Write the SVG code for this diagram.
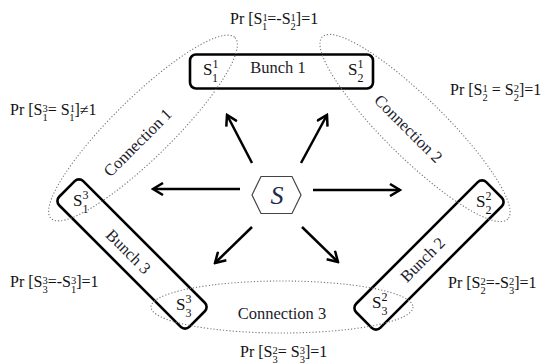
<svg xmlns="http://www.w3.org/2000/svg" width="547" height="364" viewBox="0 0 547 364">
<style>
.t{font-family:"Liberation Serif",serif;font-size:16px;fill:#111}
.s{font-size:10.5px}
.b{font-family:"Liberation Serif",serif;font-size:17px;fill:#111}
.bs{font-size:12px}
.lbl{font-family:"Liberation Serif",serif;font-size:16.5px;fill:#1c1c2c;text-anchor:middle}
.bunch{fill:#fff;stroke:#000;stroke-width:2.6}
.conn{fill:none;stroke:#777;stroke-width:1.1;stroke-dasharray:1.2 2}
.arr{stroke:#000;stroke-width:2.5;fill:none;marker-end:url(#ah)}
</style>
<defs>
<marker id="ah" markerUnits="userSpaceOnUse" viewBox="0 0 14 14" refX="12" refY="7" markerWidth="14" markerHeight="14" orient="auto">
<path d="M2,1 L12,7 L2,13" fill="none" stroke="#000" stroke-width="2.5" stroke-linejoin="miter"/>
</marker>
</defs>

<g id="bunch1">
<rect class="bunch" x="190" y="54.5" width="183" height="34" rx="6"/>
<text class="b" x="203" y="75">S<tspan class="bs" dy="-7">1</tspan><tspan class="bs" dx="-6" dy="14">1</tspan></text>
<text class="lbl" x="278" y="73">Bunch 1</text>
<text class="b" x="348" y="75">S<tspan class="bs" dy="-7">1</tspan><tspan class="bs" dx="-6" dy="14">2</tspan></text>
</g>

<g id="bunch3">
<rect class="bunch" x="-92" y="-17" width="184" height="34" rx="6" transform="translate(132,254) rotate(45)"/>
<text class="lbl" transform="translate(128,252) rotate(45)" y="5">Bunch 3</text>
<text class="b" x="73" y="206">S<tspan class="bs" dy="-7">3</tspan><tspan class="bs" dx="-6" dy="14">1</tspan></text>
<text class="b" x="176" y="310">S<tspan class="bs" dy="-7">3</tspan><tspan class="bs" dx="-6" dy="14">3</tspan></text>
</g>

<g id="bunch2">
<rect class="bunch" x="-92" y="-17" width="184" height="34" rx="6" transform="translate(429,255) rotate(-45)"/>
<text class="lbl" transform="translate(423,260) rotate(-45)" y="5">Bunch 2</text>
<text class="b" x="476" y="207">S<tspan class="bs" dy="-7">2</tspan><tspan class="bs" dx="-6" dy="14">2</tspan></text>
<text class="b" x="372" y="308">S<tspan class="bs" dy="-7">2</tspan><tspan class="bs" dx="-6" dy="14">3</tspan></text>
</g>

<g id="connection1">
<ellipse class="conn" cx="0" cy="0" rx="129" ry="30" transform="translate(143,128) rotate(-44.5)"/>
<text class="lbl" transform="translate(138,143) rotate(-45)" y="5">Connection 1</text>
</g>

<g id="connection2">
<ellipse class="conn" cx="0" cy="0" rx="130" ry="30" transform="translate(415,128) rotate(44.5)"/>
<text class="lbl" transform="translate(408,129) rotate(45)" y="5">Connection 2</text>
</g>

<g id="connection3">
<ellipse class="conn" cx="282" cy="307" rx="131" ry="26"/>
<text class="lbl" x="282" y="319">Connection 3</text>
</g>

<g id="source">
<polygon points="252,195 261,176.5 292,176.5 301,195 292,213.5 261,213.5" fill="#fff" stroke="#444" stroke-width="1.2"/>
<text x="277" y="204" font-family="Liberation Serif,serif" font-style="italic" font-size="26" fill="#1a2a4a" text-anchor="middle">S</text>
</g>

<g id="connectors">
<line class="arr" x1="240" y1="189" x2="153" y2="189"/>
<line class="arr" x1="313" y1="190" x2="400" y2="190"/>
<line class="arr" x1="252" y1="163" x2="227" y2="115"/>
<line class="arr" x1="301" y1="163" x2="327" y2="115"/>
<line class="arr" x1="252" y1="227" x2="215" y2="263"/>
<line class="arr" x1="302" y1="227" x2="338" y2="262"/>
</g>

<g id="probabilities">
<text class="t" x="230" y="24">Pr [S<tspan class="s" dy="-3.5">1</tspan><tspan class="s" dx="-5.25" dy="9">1</tspan><tspan dy="-5.5">=-S</tspan><tspan class="s" dy="-3.5">1</tspan><tspan class="s" dx="-5.25" dy="9">2</tspan><tspan dy="-5.5">]=1</tspan></text>
<text class="t" x="10" y="115">Pr [S<tspan class="s" dy="-3.5">3</tspan><tspan class="s" dx="-5.25" dy="9">1</tspan><tspan dy="-5.5">= S</tspan><tspan class="s" dy="-3.5">1</tspan><tspan class="s" dx="-5.25" dy="9">1</tspan><tspan dy="-5.5">]≠1</tspan></text>
<text class="t" x="450" y="95">Pr [S<tspan class="s" dy="-3.5">1</tspan><tspan class="s" dx="-5.25" dy="9">2</tspan><tspan dy="-5.5"> = S</tspan><tspan class="s" dy="-3.5">2</tspan><tspan class="s" dx="-5.25" dy="9">2</tspan><tspan dy="-5.5">]=1</tspan></text>
<text class="t" x="10" y="287">Pr [S<tspan class="s" dy="-3.5">3</tspan><tspan class="s" dx="-5.25" dy="9">3</tspan><tspan dy="-5.5">=-S</tspan><tspan class="s" dy="-3.5">3</tspan><tspan class="s" dx="-5.25" dy="9">1</tspan><tspan dy="-5.5">]=1</tspan></text>
<text class="t" x="448" y="288">Pr [S<tspan class="s" dy="-3.5">2</tspan><tspan class="s" dx="-5.25" dy="9">2</tspan><tspan dy="-5.5">=-S</tspan><tspan class="s" dy="-3.5">2</tspan><tspan class="s" dx="-5.25" dy="9">3</tspan><tspan dy="-5.5">]=1</tspan></text>
<text class="t" x="240" y="357">Pr [S<tspan class="s" dy="-3.5">2</tspan><tspan class="s" dx="-5.25" dy="9">3</tspan><tspan dy="-5.5">= S</tspan><tspan class="s" dy="-3.5">3</tspan><tspan class="s" dx="-5.25" dy="9">3</tspan><tspan dy="-5.5">]=1</tspan></text>
</g>
</svg>
